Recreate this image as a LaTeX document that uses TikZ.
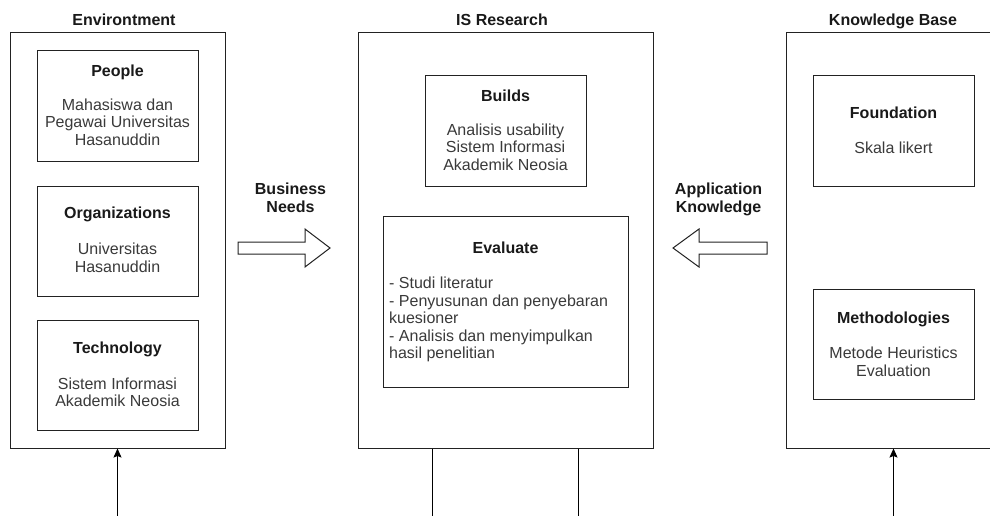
\documentclass[tikz,border=0pt]{standalone}
\usepackage{fontspec}
\setmainfont{Liberation Sans}
\usetikzlibrary{arrows.meta}
\definecolor{bodygray}{HTML}{3A3A3A}
\definecolor{linegray}{HTML}{222222}
\begin{document}
\begin{tikzpicture}[x=1pt,y=-1pt,
  box/.style={draw=linegray,line width=1pt,inner sep=0pt,fill=white},
  ttl/.style={font=\fontsize{16}{18}\selectfont\bfseries,text=black!90,inner sep=0pt,anchor=base},
  bodytxt/.style={font=\fontsize{16}{17.5}\selectfont,text=bodygray,inner sep=0pt,anchor=base,align=center},
  conn/.style={draw=black,line width=1pt},
  blockarrow/.style={draw=linegray,line width=1pt,fill=white,line join=miter}]
\useasboundingbox (0,0) rectangle (990,516);
\clip (0,0) rectangle (990,516);
% outer panels
\node[box,minimum width=215pt,minimum height=415pt] (env) at (117.5,240.5) {};
\node[box,minimum width=295pt,minimum height=415pt] (isr) at (505.5,240.5) {};
\node[box,minimum width=215pt,minimum height=415pt] (kb) at (893.5,240.5) {};
% panel titles
\node[ttl] (envT) at (124,25.5) {Environtment};
\node[ttl] (isrT) at (502,25.5) {IS Research};
\node[ttl] (kbT) at (893,25.5) {Knowledge Base};
% environment inner boxes
\node[box,minimum width=161pt,minimum height=110pt] (people) at (117.5,106) {};
\node[box,minimum width=161pt,minimum height=110pt] (org) at (117.5,241) {};
\node[box,minimum width=161pt,minimum height=110pt] (tech) at (117.5,375) {};
\node[ttl] (peopleT) at (117.5,76.5) {People};
\node[bodytxt] (peopleB) at (117.5,145.5) {Mahasiswa dan\\Pegawai Universitas\\Hasanuddin};
\node[ttl] (orgT) at (117.5,218.5) {Organizations};
\node[bodytxt] (orgB) at (117.5,272) {Universitas\\Hasanuddin};
\node[ttl] (techT) at (117.5,353.5) {Technology};
\node[bodytxt] (techB) at (117.5,406.5) {Sistem Informasi\\Akademik Neosia};
% IS research inner boxes
\node[box,minimum width=161pt,minimum height=110pt] (builds) at (505.5,131) {};
\node[box,minimum width=245pt,minimum height=171pt] (eval) at (505.5,301.5) {};
\node[ttl] (buildsT) at (505.5,101.5) {Builds};
\node[bodytxt] (buildsB) at (505.5,170.5) {Analisis usability\\Sistem Informasi\\Akademik Neosia};
\node[ttl] (evalT) at (505.5,253.5) {Evaluate};
\node[bodytxt,align=left,anchor=base west] (evalB) at (389,358.5) {- Studi literatur\\- Penyusunan dan penyebaran\\kuesioner\\- Analisis dan menyimpulkan\\hasil penelitian};
% knowledge base inner boxes
\node[box,minimum width=161pt,minimum height=110pt] (found) at (893.5,131) {};
\node[box,minimum width=161pt,minimum height=110pt] (meth) at (893.5,344) {};
\node[ttl] (foundT) at (893.5,118.5) {Foundation};
\node[bodytxt] (foundB) at (893.5,153.5) {Skala likert};
\node[ttl] (methT) at (893.5,323.5) {Methodologies};
\node[bodytxt] (methB) at (893.5,376) {Metode Heuristics\\Evaluation};
% block arrows and their labels
\node[ttl,align=center] (bnT) at (290.5,212) {Business\\Needs};
\node[ttl,align=center] (akT) at (718.5,212) {Application\\Knowledge};
\draw[blockarrow] (238,242) -- (305,242) -- (305,229) -- (330,248) -- (305,267) -- (305,254) -- (238,254) -- cycle;
\draw[blockarrow] (767,242) -- (699,242) -- (699,229) -- (673,248) -- (699,267) -- (699,254) -- (767,254) -- cycle;
% bottom connectors
\coordinate (envIn) at (117.5,520);
\coordinate (kbIn) at (893.5,520);
\coordinate (isrL) at (432,520);
\coordinate (isrR) at (578,520);
\draw[conn,-{Stealth[length=9pt,width=8pt,inset=1.5pt]}] (envIn) -- (env.south);
\draw[conn,-{Stealth[length=9pt,width=8pt,inset=1.5pt]}] (kbIn) -- (kb.south);
\draw[conn] (isr.south -| isrL) -- (isrL);
\draw[conn] (isr.south -| isrR) -- (isrR);
\end{tikzpicture}
\end{document}
